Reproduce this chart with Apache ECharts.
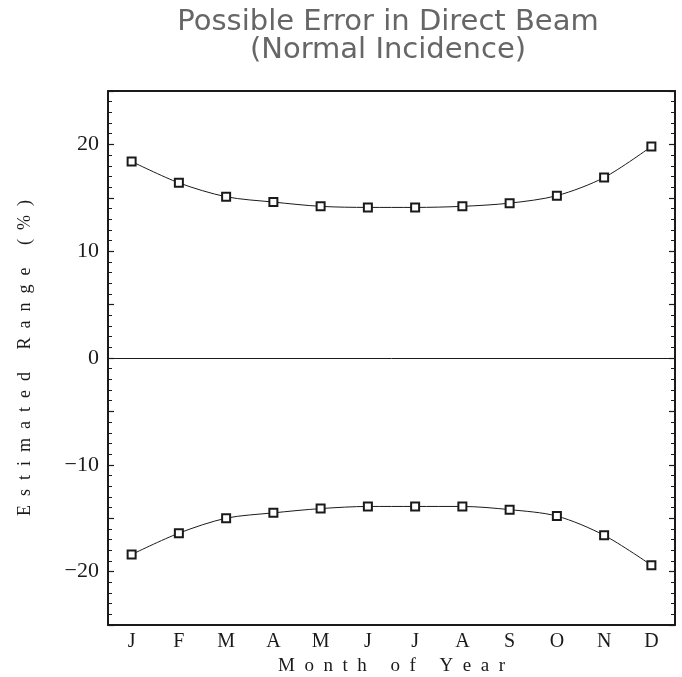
<!DOCTYPE html>
<html>
<head>
<meta charset="utf-8">
<script src="https://cdn.jsdelivr.net/npm/echarts@6/dist/echarts.min.js"></script>
<style>
  html, body { margin: 0; padding: 0; background: #fff; }
  #chart { width: 682px; height: 677px; }
</style>
</head>
<body>
<div id="chart"></div>
<script>
// Possible error in direct beam, by month
const MONTHS = ['J', 'F', 'M', 'A', 'M', 'J', 'J', 'A', 'S', 'O', 'N', 'D'];
const UPPER = [18.4, 16.4, 15.1, 14.6, 14.2, 14.1, 14.1, 14.2, 14.5, 15.2, 16.9, 19.8];
const LOWER = [-18.4, -16.4, -15.0, -14.5, -14.1, -13.9, -13.9, -13.9, -14.2, -14.8, -16.6, -19.4];

const INK = '#1a1a1a';
const SERIF = '"Liberation Serif", "DejaVu Serif", serif';
// wide letter spacing like the original plotter lettering
const spaced = s => s.split(' ').map(w => w.split('').join('  ')).join('     ');

const chart = echarts.init(document.getElementById('chart'), null, { renderer: 'canvas' });

const xBase = {
  type: 'category', data: MONTHS, boundaryGap: true,
  axisLine: { onZero: false, lineStyle: { color: INK, width: 2 } },
  axisTick: { inside: true, length: 8, interval: 0, lineStyle: { color: INK, width: 1.2 } },
  splitLine: { show: false },
};
const yBase = {
  type: 'value', min: -25, max: 25, interval: 5,
  axisLine: { show: true, onZero: false, lineStyle: { color: INK, width: 2 } },
  axisTick: { show: true, inside: true, length: 6, lineStyle: { color: INK, width: 1.2 } },
  minorTick: { show: true, splitNumber: 5, length: 4, lineStyle: { color: INK, width: 1 } },
  splitLine: { show: false },
};

const lineSeries = (name, data) => ({
  name, type: 'line', data, smooth: 0.3,
  symbol: 'emptyRect', symbolSize: 8,
  lineStyle: { color: INK, width: 1 },
  itemStyle: { color: INK, borderWidth: 1.3 },
});

chart.setOption({
  animation: false,
  grid: { left: 108, right: 7, top: 91, bottom: 52, containLabel: false, outerBoundsMode: 'none' },
  xAxis: [
    Object.assign({}, xBase, {
      position: 'bottom',
      axisLabel: { color: INK, fontFamily: SERIF, fontSize: 20, margin: 7 },
      name: spaced('Month of Year'), nameLocation: 'middle', nameGap: 29,
      nameTextStyle: { color: INK, fontFamily: SERIF, fontSize: 19 },
    }),
    Object.assign({}, xBase, { position: 'top', axisLabel: { show: false } }),
  ],
  yAxis: [
    Object.assign({}, yBase, {
      position: 'left',
      axisLabel: {
        color: INK, fontFamily: SERIF, fontSize: 22, margin: 9,
        formatter: v => (v % 10 === 0 && Math.abs(v) < 25 ? (v < 0 ? '\u2212' + (-v) : String(v)) : ''),
      },
      name: spaced('Estimated Range (%)'), nameLocation: 'middle', nameGap: 74,
      nameTextStyle: { color: INK, fontFamily: SERIF, fontSize: 18 },
    }),
    Object.assign({}, yBase, { position: 'right', axisLabel: { show: false } }),
  ],
  graphic: [{
    type: 'text', x: 388, y: 8,
    style: {
      text: 'Possible Error in Direct Beam\n(Normal Incidence)',
      textAlign: 'center', fill: '#666', lineHeight: 28,
      font: '29px "DejaVu Sans", "Liberation Sans", sans-serif',
    },
  }],
  series: [
    Object.assign(lineSeries('Upper', UPPER), {
      markLine: {
        silent: true, symbol: 'none', label: { show: false },
        lineStyle: { color: INK, width: 1, type: 'solid' },
        data: [{ yAxis: 0 }],
      },
    }),
    lineSeries('Lower', LOWER),
  ],
});
</script>
</body>
</html>
